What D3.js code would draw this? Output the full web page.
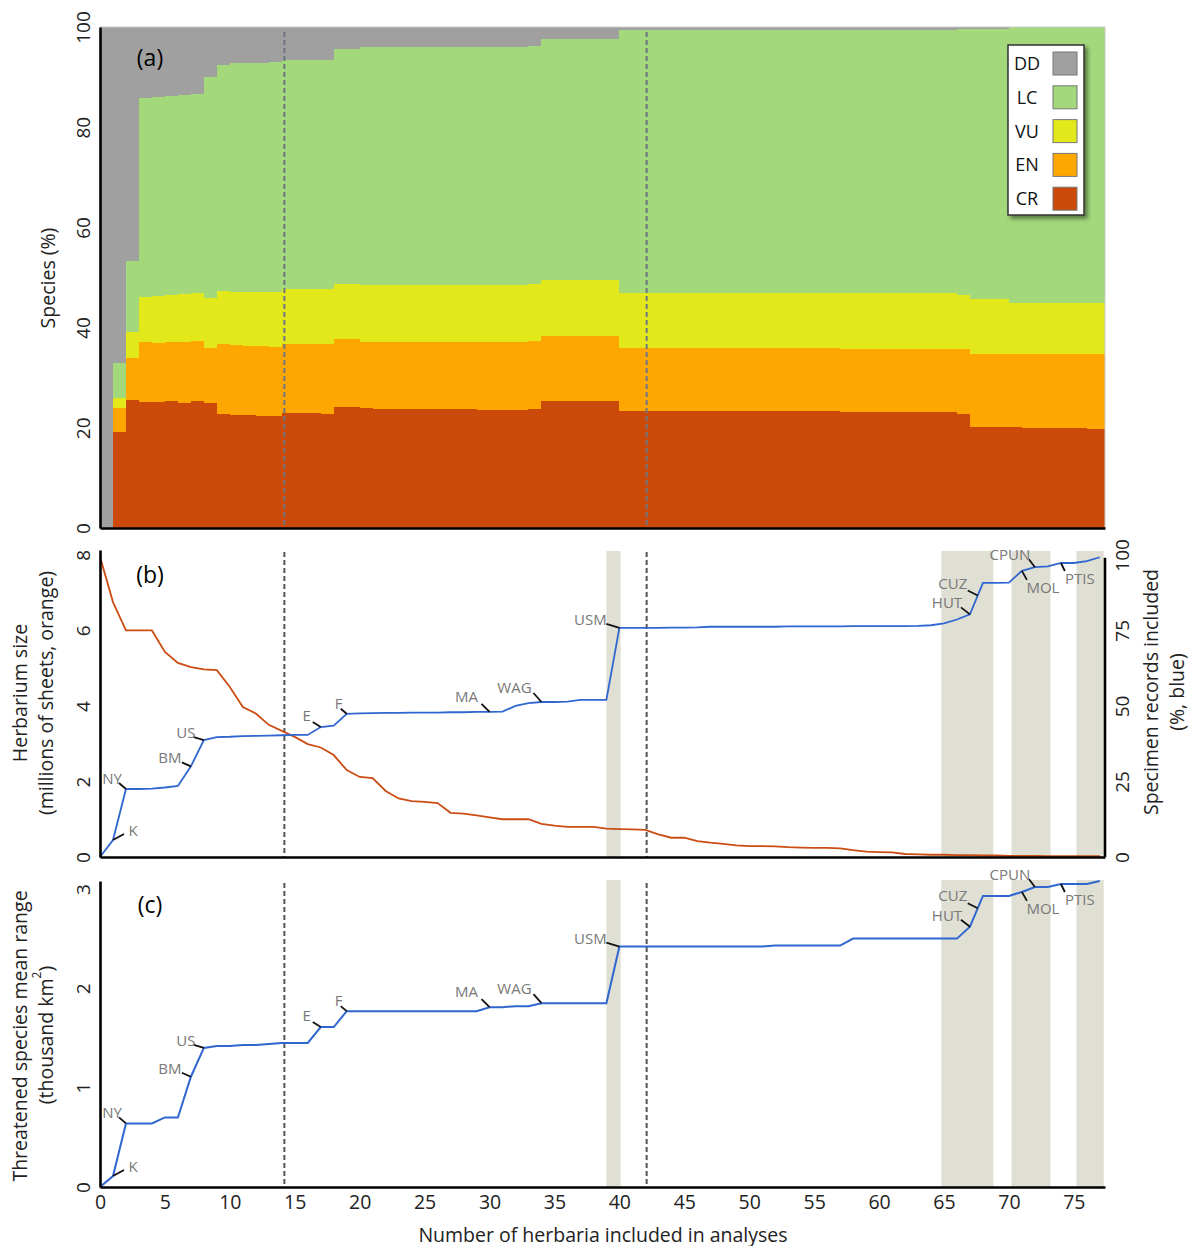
<!DOCTYPE html>
<html>
<head>
<meta charset="utf-8">
<script src="https://cdn.jsdelivr.net/npm/d3@7"></script>
<style>
body { margin: 0; background: #fff; }
text { font-family: "Open Sans", "Noto Sans", sans-serif; }
</style>
</head>
<body>
<div id="chart"></div>
<script>
// number of herbaria (x) for every column / vertex
var herbaria = d3.range(78);

// (a) species per IUCN category, % of species, one value per column
var crPct = [0, 19.2, 25.6, 25.1, 25.1, 25.3, 25.0, 25.3, 25.0, 22.8,
  22.5, 22.5, 22.4, 22.4, 23.0, 23.0, 22.9, 22.8, 24.2, 24.2,
  23.9, 23.7, 23.7, 23.7, 23.7, 23.7, 23.7, 23.7, 23.7, 23.5,
  23.5, 23.5, 23.5, 23.7, 25.3, 25.3, 25.3, 25.3, 25.3, 25.3,
  23.4, 23.4, 23.4, 23.4, 23.4, 23.4, 23.4, 23.4, 23.4, 23.4,
  23.4, 23.4, 23.4, 23.4, 23.4, 23.4, 23.4, 23.2, 23.2, 23.2,
  23.2, 23.2, 23.2, 23.2, 23.2, 23.2, 22.8, 20.2, 20.2, 20.2,
  20.2, 19.9, 19.9, 19.9, 19.9, 19.9, 19.7, 19.7];
var enPct = [0, 4.7, 8.4, 12.1, 11.8, 11.9, 12.2, 12.1, 11.0, 14.0,
  14.0, 13.8, 13.9, 13.8, 13.8, 13.8, 13.9, 14.0, 13.5, 13.5,
  13.3, 13.5, 13.5, 13.5, 13.5, 13.5, 13.5, 13.5, 13.5, 13.7,
  13.7, 13.7, 13.7, 13.7, 13.0, 13.0, 13.0, 13.0, 13.0, 13.0,
  12.6, 12.6, 12.6, 12.6, 12.6, 12.6, 12.6, 12.6, 12.6, 12.6,
  12.6, 12.6, 12.6, 12.6, 12.6, 12.6, 12.6, 12.6, 12.6, 12.6,
  12.6, 12.6, 12.6, 12.6, 12.6, 12.6, 13.0, 14.6, 14.6, 14.6,
  14.6, 14.9, 14.9, 14.9, 14.9, 14.9, 15.1, 15.1];
var vuPct = [0, 2.1, 5.2, 9.0, 9.5, 9.4, 9.5, 9.5, 10.0, 10.6,
  10.7, 10.9, 10.9, 10.9, 11.0, 11.0, 11.0, 11.0, 11.1, 11.1,
  11.4, 11.4, 11.4, 11.4, 11.4, 11.4, 11.4, 11.4, 11.4, 11.4,
  11.4, 11.4, 11.4, 11.4, 11.3, 11.3, 11.3, 11.3, 11.3, 11.3,
  10.9, 10.9, 10.9, 10.9, 10.9, 10.9, 10.9, 10.9, 10.9, 10.9,
  10.9, 10.9, 10.9, 10.9, 10.9, 10.9, 10.9, 11.1, 11.1, 11.1,
  11.1, 11.1, 11.1, 11.1, 11.1, 11.1, 10.7, 11.0, 11.0, 11.0,
  10.2, 10.2, 10.2, 10.2, 10.2, 10.2, 10.2, 10.2];
var lcPct = [0, 7.0, 14.1, 39.6, 39.6, 39.6, 39.7, 39.8, 44.1, 45.1,
  45.7, 45.7, 45.7, 45.9, 45.6, 45.6, 45.7, 45.7, 46.8, 46.8,
  47.4, 47.4, 47.4, 47.4, 47.4, 47.4, 47.4, 47.4, 47.4, 47.4,
  47.4, 47.4, 47.4, 47.4, 48.0, 48.0, 48.0, 48.0, 48.0, 48.0,
  52.6, 52.6, 52.6, 52.6, 52.6, 52.6, 52.6, 52.6, 52.6, 52.6,
  52.6, 52.6, 52.6, 52.6, 52.6, 52.6, 52.6, 52.6, 52.6, 52.6,
  52.6, 52.6, 52.6, 52.6, 52.6, 52.6, 53.1, 53.9, 53.9, 53.9,
  55.0, 55.0, 55.0, 55.0, 55.0, 55.0, 55.0, 55.0];
var ddPct = [100, 67.0, 46.7, 14.2, 14.0, 13.8, 13.6, 13.3, 9.9, 7.5,
  7.1, 7.1, 7.1, 7.0, 6.6, 6.6, 6.5, 6.5, 4.4, 4.4,
  4.0, 4.0, 4.0, 4.0, 4.0, 4.0, 4.0, 4.0, 4.0, 4.0,
  4.0, 4.0, 4.0, 3.8, 2.4, 2.4, 2.4, 2.4, 2.4, 2.4,
  0.5, 0.5, 0.5, 0.5, 0.5, 0.5, 0.5, 0.5, 0.5, 0.5,
  0.5, 0.5, 0.5, 0.5, 0.5, 0.5, 0.5, 0.5, 0.5, 0.5,
  0.5, 0.5, 0.5, 0.5, 0.5, 0.5, 0.4, 0.3, 0.3, 0.3,
  0, 0, 0, 0, 0, 0, 0, 0];

// (b) herbarium size (millions of sheets) and specimen records included (%)
var sizeMillions = [7.95, 6.75, 6.0, 6.0, 6.0, 5.43, 5.14, 5.03, 4.97, 4.95,
  4.5, 3.97, 3.8, 3.5, 3.34, 3.18, 2.99, 2.9, 2.7, 2.3,
  2.12, 2.09, 1.75, 1.55, 1.48, 1.46, 1.43, 1.17, 1.15, 1.10,
  1.05, 1.0, 1.0, 1.0, 0.88, 0.83, 0.80, 0.80, 0.80, 0.75,
  0.74, 0.73, 0.72, 0.60, 0.51, 0.51, 0.42, 0.38, 0.35, 0.31,
  0.29, 0.29, 0.28, 0.26, 0.25, 0.24, 0.24, 0.23, 0.18, 0.14,
  0.13, 0.12, 0.08, 0.07, 0.06, 0.06, 0.05, 0.05, 0.04, 0.04,
  0.03, 0.03, 0.03, 0.02, 0.02, 0.02, 0.02, 0.02];
var recordsPct = [0, 5.6, 22.5, 22.5, 22.6, 23.0, 23.5, 30.0, 38.7, 39.7,
  39.8, 40.0, 40.1, 40.2, 40.3, 40.4, 40.4, 43.0, 43.5, 47.4,
  47.5, 47.6, 47.7, 47.7, 47.8, 47.8, 47.8, 47.9, 47.9, 48.0,
  48.0, 48.1, 50.0, 50.9, 51.3, 51.3, 51.4, 52.0, 52.0, 52.0,
  75.8, 75.8, 75.8, 75.8, 75.9, 75.9, 76.0, 76.2, 76.2, 76.2,
  76.2, 76.2, 76.2, 76.3, 76.3, 76.3, 76.3, 76.3, 76.4, 76.4,
  76.4, 76.4, 76.4, 76.5, 76.7, 77.3, 78.6, 80.3, 90.7, 90.7,
  90.8, 94.7, 95.9, 96.2, 97.3, 97.3, 97.9, 99.2];

// (c) threatened species mean range (thousand km2)
var meanRange = [0, 0.11, 0.64, 0.64, 0.64, 0.70, 0.70, 1.11, 1.40, 1.42,
  1.42, 1.43, 1.43, 1.44, 1.45, 1.45, 1.45, 1.61, 1.61, 1.77,
  1.77, 1.77, 1.77, 1.77, 1.77, 1.77, 1.77, 1.77, 1.77, 1.77,
  1.81, 1.81, 1.82, 1.82, 1.85, 1.85, 1.85, 1.85, 1.85, 1.85,
  2.42, 2.42, 2.42, 2.42, 2.42, 2.42, 2.42, 2.42, 2.42, 2.42,
  2.42, 2.42, 2.43, 2.43, 2.43, 2.43, 2.43, 2.43, 2.50, 2.50,
  2.50, 2.50, 2.50, 2.50, 2.50, 2.50, 2.50, 2.62, 2.93, 2.93,
  2.93, 2.97, 3.02, 3.02, 3.05, 3.05, 3.05, 3.08];

// herbaria names marked on (b) and (c), and where on x they sit
var herbNames = ["K", "NY", "BM", "US", "E", "F", "MA", "WAG", "USM", "HUT", "CUZ", "CPUN", "MOL", "PTIS"];
var herbAt = [1, 2, 7, 8, 17, 19, 30, 34, 40, 67, 67.6, 72, 71, 74];

// shaded ranges of herbaria and the two dashed thresholds
var bandFrom = [39, 64.8, 70.2, 75.2];
var bandTo = [40.1, 68.8, 73.2, 77.3];
var thresholds = [14.2, 42.1];

var categories = ["CR", "EN", "VU", "LC", "DD"];
var legendOrder = ["DD", "LC", "VU", "EN", "CR"];
var yTicksA = [0, 20, 40, 60, 80, 100];
var yTicksB = [0, 2, 4, 6, 8];
var yTicksBr = [0, 25, 50, 75, 100];
var yTicksC = [0, 1, 2, 3];
var xTicks = d3.range(0, 80, 5);

// ---- layout / styles ----
var colors = { DD: "#a0a0a0", LC: "#a3d97b", VU: "#e3e81b", EN: "#fea700", CR: "#cb4a09" };
var blue = "#2f66cf", orange = "#cb4d14", bandFill = "#dfdfd4";
var xMax = 77.4;
// pixel offsets of leader end (lx,ly) and label centre (tx,ty) from the line point
var labelLayout = [
  [11, -6, 20, -10], [-7, -6, -14, -11], [-9, -4, -21, -9], [-10, -3, -18, -8],
  [-8, -5, -14, -12], [-6, -5, -8, -11], [-8, -8, -23, -16], [-8, -9, -27, -15],
  [-13, -4, -29, -9], [-9, -7, -23, -12], [-10, -5, -25, -13], [-6, -8, -25, -13],
  [5, 9, 21, 16], [4, 8, 19, 15]
];

var svg = d3.select("#chart").append("svg")
  .attr("width", 1194)
  .attr("height", 1246);

var defs = svg.append("defs");
var shadow = defs.append("filter").attr("id", "shadow")
  .attr("x", "-20%").attr("y", "-20%").attr("width", "150%").attr("height", "150%");
shadow.append("feDropShadow").attr("dx", 3).attr("dy", 3)
  .attr("stdDeviation", 2).attr("flood-color", "#000").attr("flood-opacity", 0.45);

var x = d3.scaleLinear().domain([0, xMax]).range([100, 1105]);
var yA = d3.scaleLinear().domain([0, 100]).range([528, 27]);
var yB = d3.scaleLinear().domain([0, 8.13]).range([857, 550]);
var yBr = d3.scaleLinear().domain([0, 101.6]).range([857, 550]);
var yC = d3.scaleLinear().domain([0, 3.08]).range([1187, 881]);

function rotateTicks(g, off) {
  g.selectAll(".tick text")
    .attr("transform", "rotate(-90)")
    .attr("x", 0)
    .attr("y", off)
    .attr("dy", null)
    .attr("dominant-baseline", "central")
    .attr("text-anchor", "middle")
    .style("font-size", "19px")
    .style("fill", "#222");
}

function styleDomain(g) {
  g.select(".domain").attr("stroke", "#000").attr("stroke-width", 2.6);
}

function vTitle(cx, cy, txt) {
  return svg.append("text")
    .attr("transform", `translate(${cx},${cy}) rotate(-90)`)
    .attr("text-anchor", "middle")
    .attr("dominant-baseline", "central")
    .style("font-size", "19.5px")
    .style("fill", "#222")
    .text(txt);
}

// ================= panel (a) =================
var rows = herbaria.map(function(n, i) {
  return { n: n, CR: crPct[i], EN: enPct[i], VU: vuPct[i], LC: lcPct[i], DD: ddPct[i] };
});
var stacked = d3.stack().keys(categories)(rows);

var panelA = svg.append("g");
panelA.selectAll("g.layer")
  .data(stacked)
  .enter()
  .append("g")
  .attr("class", "layer")
  .attr("fill", d => colors[d.key])
  .selectAll("rect")
  .data(d => d)
  .enter()
  .append("rect")
  .attr("shape-rendering", "crispEdges")
  .attr("x", d => x(d.data.n))
  .attr("width", d => x(Math.min(d.data.n + 1, xMax)) - x(d.data.n))
  .attr("y", d => yA(d[1]))
  .attr("height", d => yA(d[0]) - yA(d[1]));

// light frame on top/right
panelA.append("path")
  .attr("d", `M${x(0)},${yA(100)}H${x(xMax)}V${yA(0)}`)
  .attr("fill", "none")
  .attr("stroke", "#c9c9c9")
  .attr("stroke-width", 1);

function dashed(g, y0, y1, color) {
  g.selectAll("line.thr")
    .data(thresholds)
    .enter()
    .append("line")
    .attr("class", "thr")
    .attr("x1", d => x(d)).attr("x2", d => x(d))
    .attr("y1", y0).attr("y2", y1)
    .attr("stroke", color)
    .attr("stroke-width", 2)
    .attr("stroke-dasharray", "5,3");
}
dashed(panelA, yA(99), yA(0), "#6d7683");

var axA = panelA.append("g").attr("transform", `translate(${x(0)},0)`)
  .call(d3.axisLeft(yA).tickValues(yTicksA).tickSize(0).tickSizeOuter(0));
styleDomain(axA);
rotateTicks(axA, -17);
var axAb = panelA.append("g").attr("transform", `translate(0,${yA(0)})`)
  .call(d3.axisBottom(x).tickValues([]).tickSizeOuter(0));
styleDomain(axAb);

vTitle(47, 278, "Species (%)");

svg.append("text").attr("x", 150).attr("y", 57)
  .attr("text-anchor", "middle").attr("dominant-baseline", "central")
  .style("font-size", "23px").text("(a)");

// legend
var legend = svg.append("g").attr("transform", "translate(1008,45)");
legend.append("rect")
  .attr("width", 76).attr("height", 170)
  .attr("fill", "#fff").attr("stroke", "#333").attr("stroke-width", 1.5)
  .attr("filter", "url(#shadow)");
var legRow = legend.selectAll("g.row")
  .data(legendOrder)
  .enter()
  .append("g")
  .attr("class", "row")
  .attr("transform", (d, i) => `translate(0,${18 + i * 33.8})`);
legRow.append("text")
  .attr("x", 19).attr("text-anchor", "middle").attr("dominant-baseline", "central")
  .style("font-size", "18px").style("fill", "#111")
  .text(d => d);
legRow.append("rect")
  .attr("x", 45).attr("y", -11).attr("width", 24).attr("height", 23)
  .attr("fill", d => colors[d]).attr("stroke", "#777").attr("stroke-width", 1);

// ========== helpers for (b) and (c) ==========
function valueAt(series, n) {
  var i = Math.floor(n), f = n - i;
  if (i + 1 >= series.length) return series[series.length - 1];
  return series[i] * (1 - f) + series[i + 1] * f;
}

function bands(g, y0, y1) {
  g.selectAll("rect.band")
    .data(bandFrom)
    .enter()
    .append("rect")
    .attr("class", "band")
    .attr("x", d => x(d))
    .attr("width", (d, i) => x(bandTo[i]) - x(d))
    .attr("y", y0)
    .attr("height", y1 - y0)
    .attr("fill", bandFill);
}

function herbLabels(g, series, yScale) {
  var lab = g.selectAll("g.hl")
    .data(herbNames)
    .enter()
    .append("g")
    .attr("class", "hl")
    .attr("transform", (d, i) => `translate(${x(herbAt[i])},${yScale(valueAt(series, herbAt[i]))})`);
  lab.append("line")
    .attr("x1", 0).attr("y1", 0)
    .attr("x2", (d, i) => labelLayout[i][0])
    .attr("y2", (d, i) => labelLayout[i][1])
    .attr("stroke", "#111").attr("stroke-width", 1.8);
  lab.append("text")
    .attr("x", (d, i) => labelLayout[i][2])
    .attr("y", (d, i) => labelLayout[i][3])
    .attr("text-anchor", "middle")
    .attr("dominant-baseline", "central")
    .style("font-size", "15px")
    .style("fill", "#787878")
    .text(d => d);
}

// ================= panel (b) =================
var panelB = svg.append("g");
bands(panelB, 551, yB(0));
dashed(panelB, 552, yB(0), "#555");

var lineSize = d3.line().x((d, i) => x(herbaria[i])).y(d => yB(d));
var lineRec = d3.line().x((d, i) => x(herbaria[i])).y(d => yBr(d));

panelB.append("path").datum(sizeMillions)
  .attr("d", lineSize).attr("fill", "none")
  .attr("stroke", orange).attr("stroke-width", 1.8);
panelB.append("path").datum(recordsPct)
  .attr("d", lineRec).attr("fill", "none")
  .attr("stroke", blue).attr("stroke-width", 1.8);

herbLabels(panelB, recordsPct, yBr);

var axB = panelB.append("g").attr("transform", `translate(${x(0)},0)`)
  .call(d3.axisLeft(yB).tickValues(yTicksB).tickSize(0).tickSizeOuter(0));
styleDomain(axB);
rotateTicks(axB, -17);
var axBr = panelB.append("g").attr("transform", `translate(${x(xMax)},0)`)
  .call(d3.axisRight(yBr).tickValues(yTicksBr).tickSize(0).tickSizeOuter(0));
styleDomain(axBr);
axBr.select(".domain").attr("d", `M0,${yBr(99)}V${yBr(0)}`);
rotateTicks(axBr, 17);
var axBb = panelB.append("g").attr("transform", `translate(0,${yB(0)})`)
  .call(d3.axisBottom(x).tickValues([]).tickSizeOuter(0));
styleDomain(axBb);

vTitle(19, 693, "Herbarium size");
vTitle(45, 693, "(millions of sheets, orange)");
vTitle(1150, 692, "Specimen records included");
vTitle(1176, 692, "(%, blue)");

svg.append("text").attr("x", 150).attr("y", 574)
  .attr("text-anchor", "middle").attr("dominant-baseline", "central")
  .style("font-size", "23px").text("(b)");

// ================= panel (c) =================
var panelC = svg.append("g");
bands(panelC, 880, yC(0));
dashed(panelC, 883, yC(0), "#555");

var lineRange = d3.line().x((d, i) => x(herbaria[i])).y(d => yC(d));
panelC.append("path").datum(meanRange)
  .attr("d", lineRange).attr("fill", "none")
  .attr("stroke", blue).attr("stroke-width", 2);

herbLabels(panelC, meanRange, yC);

var axC = panelC.append("g").attr("transform", `translate(${x(0)},0)`)
  .call(d3.axisLeft(yC).tickValues(yTicksC).tickFormat(d3.format("d")).tickSize(0).tickSizeOuter(0));
styleDomain(axC);
rotateTicks(axC, -17);
var axCb = panelC.append("g").attr("transform", `translate(0,${yC(0)})`)
  .call(d3.axisBottom(x).tickValues(xTicks).tickSize(0).tickSizeOuter(0).tickPadding(8));
styleDomain(axCb);
axCb.selectAll(".tick text").style("font-size", "19.5px").style("fill", "#222");

vTitle(19, 1036, "Threatened species mean range");
var t2 = vTitle(45, 1035, "(thousand km");
t2.append("tspan").attr("baseline-shift", "super").style("font-size", "12px").text("2");
t2.append("tspan").text(")");

svg.append("text").attr("x", 603).attr("y", 1234)
  .attr("text-anchor", "middle").attr("dominant-baseline", "central")
  .style("font-size", "19.5px").style("fill", "#222")
  .text("Number of herbaria included in analyses");

svg.append("text").attr("x", 150).attr("y", 904)
  .attr("text-anchor", "middle").attr("dominant-baseline", "central")
  .style("font-size", "23px").text("(c)");
</script>
</body>
</html>
